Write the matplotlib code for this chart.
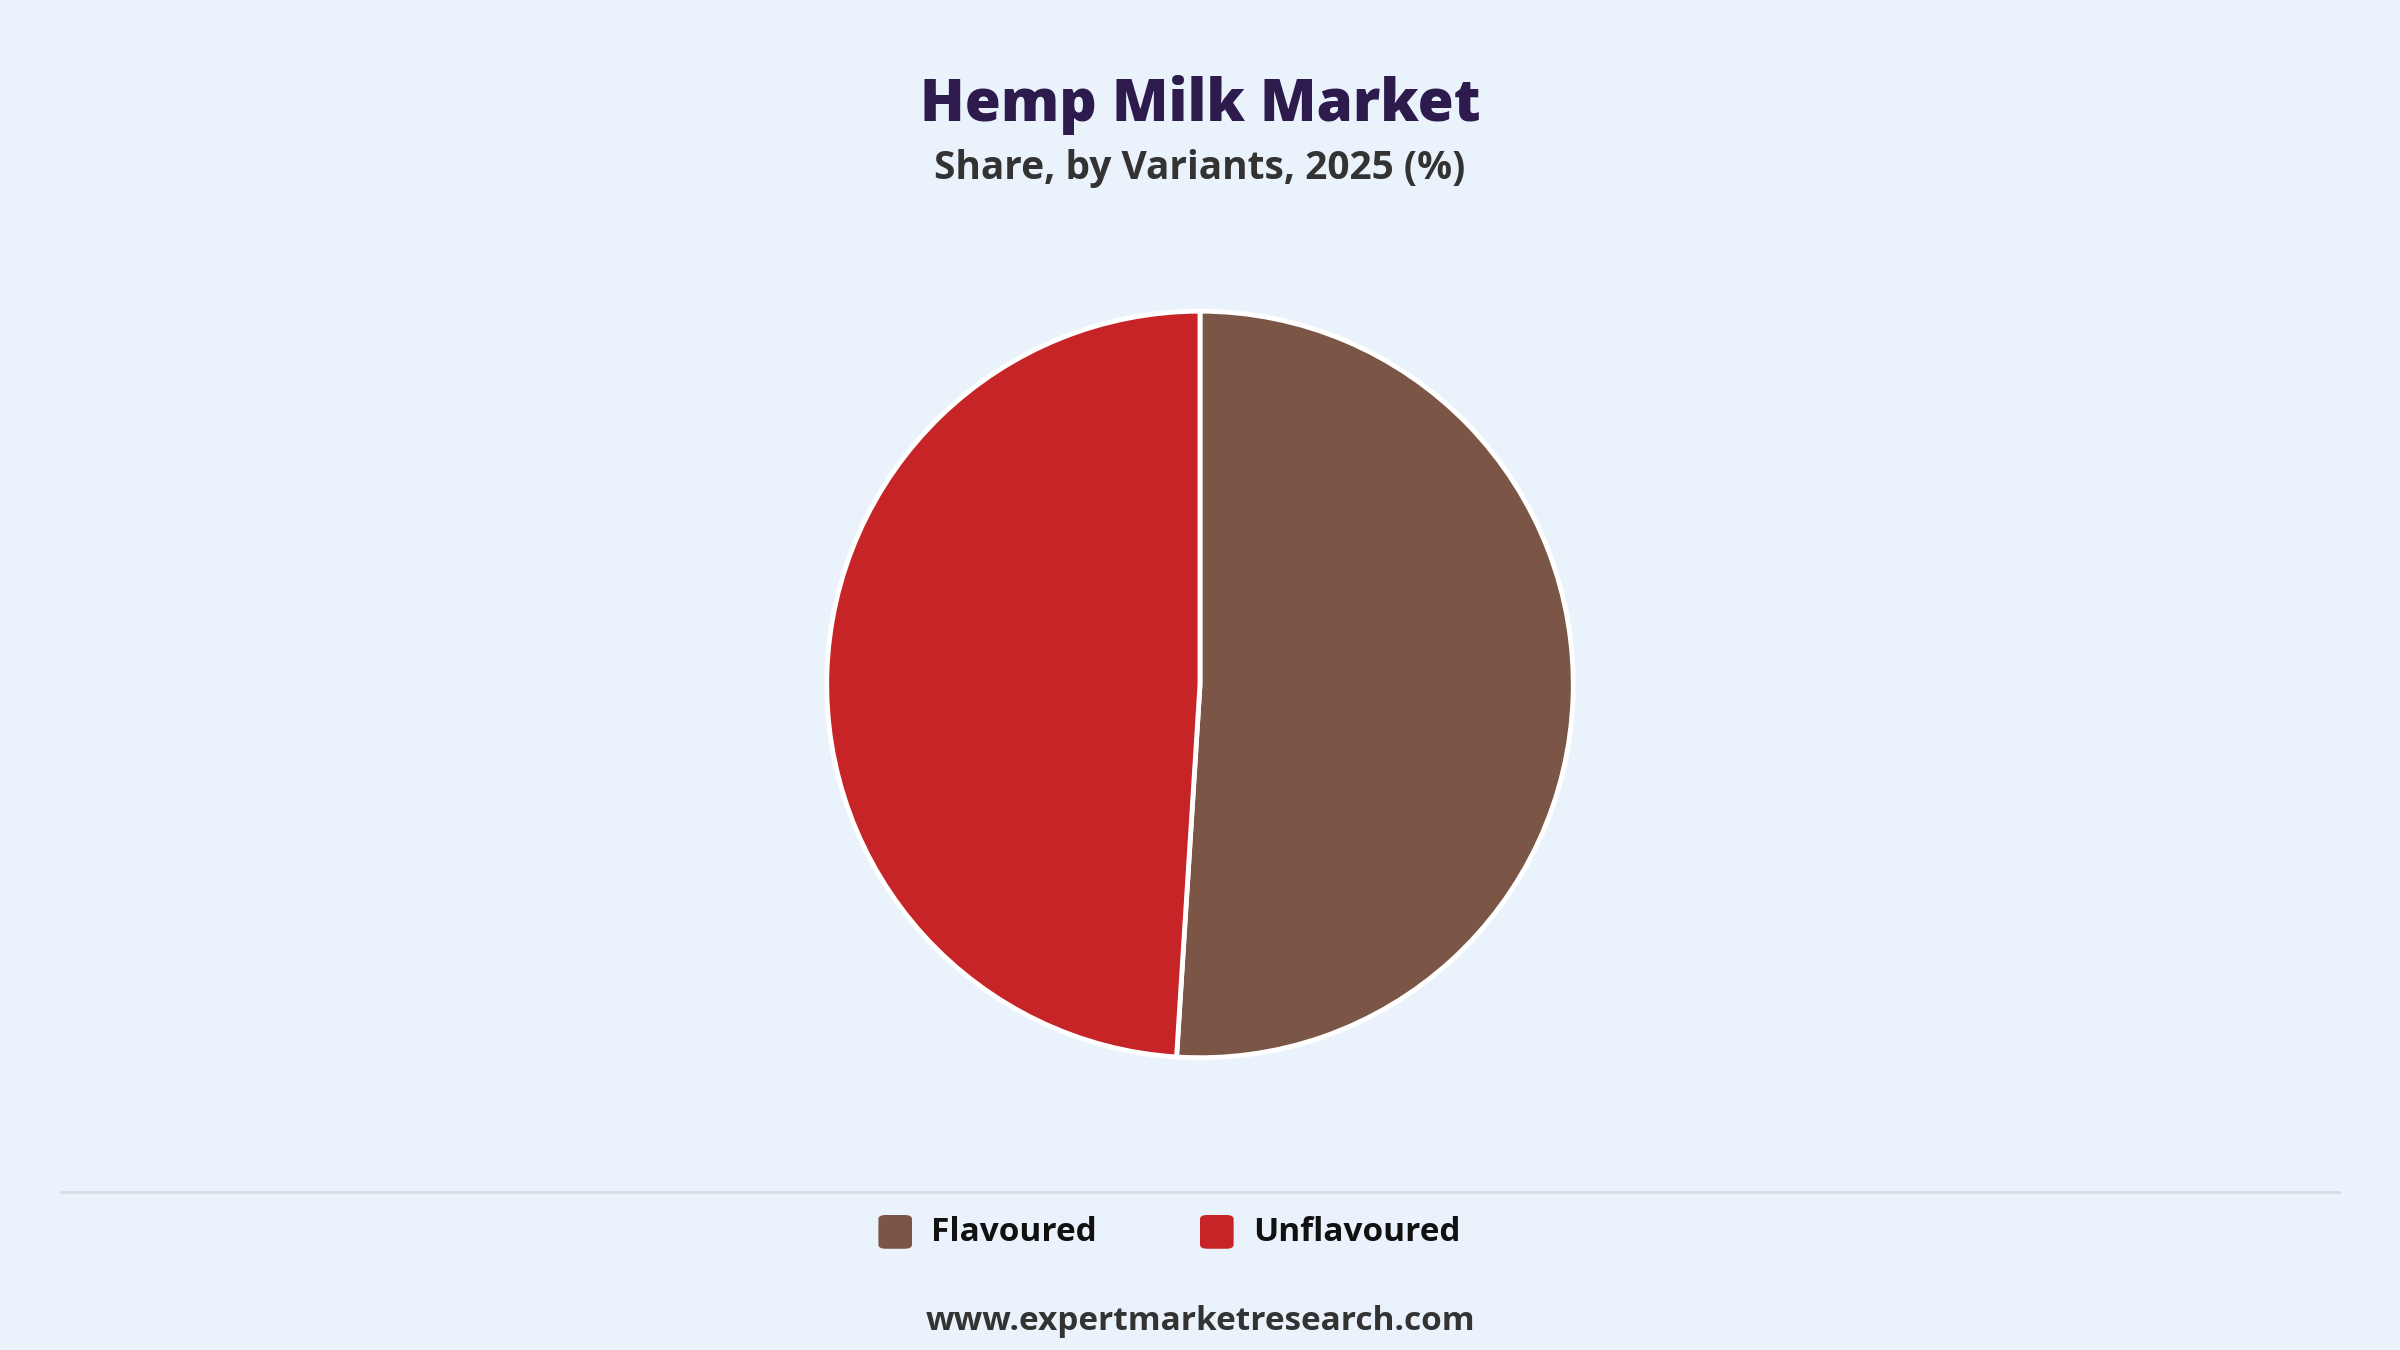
import matplotlib
matplotlib.use("Agg")
import matplotlib.pyplot as plt
from matplotlib.patches import FancyBboxPatch

labels = ["Flavoured", "Unflavoured"]
values = [51.0, 49.0]
colors = ["#7B5646", "#C62426"]

bg = "#EAF2FC"
fig = plt.figure(figsize=(24, 13.5), dpi=100, facecolor=bg)
plt.rcParams['font.family'] = ['Open Sans', 'DejaVu Sans']

h = 0.553
w = h * 13.5 / 24
ax = fig.add_axes([0.5 - w / 2, 0.493 - h / 2, w, h])
ax.set_facecolor(bg)
ax.pie(values, colors=colors, startangle=90, counterclock=False,
       wedgeprops=dict(edgecolor="white", linewidth=3.5))
ax.set_aspect("equal")
ax.set_xlim(-1.0, 1.0); ax.set_ylim(-1.0, 1.0)
ax.axis("off")

fig.text(0.5, 0.922, "Hemp Milk Market", ha="center", va="center",
         fontsize=42, fontweight=800, color="#2D1B4E")
fig.text(0.5, 0.875, "Share, by Variants, 2025 (%)", ha="center", va="center",
         fontsize=28, fontweight="bold", color="#333333")

fig.add_artist(plt.Line2D([40/1568, 1528/1568], [0.117, 0.117],
                          color="#D8DDE3", linewidth=2, transform=fig.transFigure))

legend_x = [0.366, 0.5]
for x, lab, c in zip(legend_x, labels, colors):
    fig.add_artist(FancyBboxPatch((x, 0.075), 0.014, 0.025,
                                  boxstyle="round,pad=0,rounding_size=0.003",
                                  transform=fig.transFigure, facecolor=c, edgecolor="none"))
    fig.text(x + 0.022, 0.087, lab, ha="left", va="center", fontsize=24,
             fontweight="bold", color="#111111")

fig.text(0.5, 0.021, "www.expertmarketresearch.com", ha="center", va="center",
         fontsize=24, fontweight="bold", color="#333333")

fig.savefig("out.png", dpi=100, facecolor=bg)
